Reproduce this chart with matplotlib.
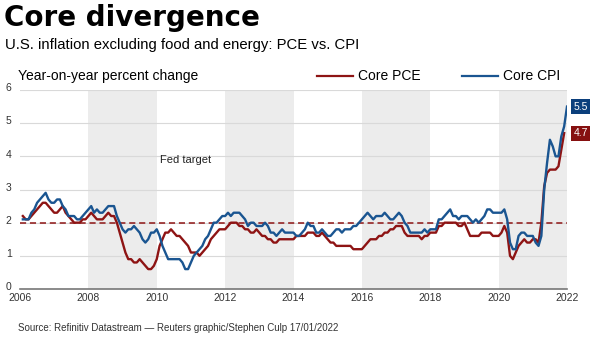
import matplotlib.pyplot as plt
import matplotlib.transforms as mtransforms
import numpy as np

plt.rcParams['font.family'] = ['Liberation Sans', 'DejaVu Sans']

# monthly year-on-year % change, Jan 2006 onwards
core_cpi = [
    2.1, 2.1, 2.1, 2.3, 2.4, 2.6, 2.7, 2.8, 2.9, 2.7, 2.6, 2.6,
    2.7, 2.7, 2.5, 2.4, 2.2, 2.2, 2.2, 2.1, 2.1, 2.2, 2.3, 2.4,
    2.5, 2.3, 2.4, 2.3, 2.3, 2.4, 2.5, 2.5, 2.5, 2.2, 2.0, 1.8,
    1.7, 1.8, 1.8, 1.9, 1.8, 1.7, 1.5, 1.4, 1.5, 1.7, 1.7, 1.8,
    1.6, 1.3, 1.1, 0.9, 0.9, 0.9, 0.9, 0.9, 0.8, 0.6, 0.6, 0.8,
    1.0, 1.1, 1.2, 1.3, 1.5, 1.6, 1.8, 2.0, 2.0, 2.1, 2.2, 2.2,
    2.3, 2.2, 2.3, 2.3, 2.3, 2.2, 2.1, 1.9, 2.0, 2.0, 1.9, 1.9,
    1.9, 2.0, 1.9, 1.7, 1.7, 1.6, 1.7, 1.8, 1.7, 1.7, 1.7, 1.7,
    1.6, 1.6, 1.7, 1.8, 2.0, 1.9, 1.9, 1.7, 1.7, 1.8, 1.7, 1.6,
    1.6, 1.7, 1.8, 1.8, 1.7, 1.8, 1.8, 1.8, 1.9, 1.9, 2.0, 2.1,
    2.2, 2.3, 2.2, 2.1, 2.2, 2.2, 2.2, 2.3, 2.2, 2.1, 2.1, 2.2,
    2.3, 2.2, 2.0, 1.9, 1.7, 1.7, 1.7, 1.7, 1.7, 1.8, 1.7, 1.8,
    1.8, 1.8, 2.1, 2.1, 2.2, 2.3, 2.4, 2.2, 2.2, 2.1, 2.2, 2.2,
    2.2, 2.1, 2.0, 2.1, 2.0, 2.1, 2.2, 2.4, 2.4, 2.3, 2.3, 2.3,
    2.3, 2.4, 2.1, 1.4, 1.2, 1.2, 1.6, 1.7, 1.7, 1.6, 1.6, 1.6,
    1.4, 1.3, 1.6, 3.0, 3.8, 4.5, 4.3, 4.0, 4.0, 4.6, 4.9, 5.5,
]
core_pce = [
    2.2, 2.1, 2.1, 2.2, 2.3, 2.4, 2.5, 2.6, 2.6, 2.5, 2.4, 2.3,
    2.3, 2.4, 2.5, 2.3, 2.2, 2.1, 2.0, 2.0, 2.0, 2.1, 2.1, 2.2,
    2.3, 2.2, 2.1, 2.1, 2.1, 2.2, 2.3, 2.2, 2.2, 2.0, 1.7, 1.4,
    1.1, 0.9, 0.9, 0.8, 0.8, 0.9, 0.8, 0.7, 0.6, 0.6, 0.7, 0.9,
    1.3, 1.5, 1.7, 1.7, 1.8, 1.7, 1.6, 1.6, 1.5, 1.4, 1.3, 1.1,
    1.1, 1.1, 1.0, 1.1, 1.2, 1.3, 1.5, 1.6, 1.7, 1.8, 1.8, 1.8,
    1.9, 2.0, 2.0, 2.0, 1.9, 1.9, 1.8, 1.8, 1.7, 1.7, 1.8, 1.7,
    1.6, 1.6, 1.5, 1.5, 1.4, 1.4, 1.5, 1.5, 1.5, 1.5, 1.5, 1.5,
    1.6, 1.6, 1.6, 1.6, 1.7, 1.7, 1.7, 1.6, 1.6, 1.7, 1.6, 1.5,
    1.4, 1.4, 1.3, 1.3, 1.3, 1.3, 1.3, 1.3, 1.2, 1.2, 1.2, 1.2,
    1.3, 1.4, 1.5, 1.5, 1.5, 1.6, 1.6, 1.7, 1.7, 1.8, 1.8, 1.9,
    1.9, 1.9, 1.7, 1.6, 1.6, 1.6, 1.6, 1.6, 1.5, 1.6, 1.6, 1.7,
    1.7, 1.7, 1.9, 1.9, 2.0, 2.0, 2.0, 2.0, 2.0, 1.9, 1.9, 2.0,
    1.8, 1.6, 1.6, 1.6, 1.6, 1.7, 1.7, 1.7, 1.7, 1.6, 1.6, 1.6,
    1.7, 1.9, 1.7, 1.0, 0.9, 1.1, 1.3, 1.4, 1.5, 1.4, 1.4, 1.5,
    1.5, 1.4, 2.0, 3.1, 3.5, 3.6, 3.6, 3.6, 3.7, 4.2, 4.7,
]
fed_target = 2.0
year_ticks = list(range(2006, 2023, 2))
shaded = [(2008, 2010), (2012, 2014), (2016, 2018), (2020, 2022)]

cpi_x = 2006 + (np.arange(len(core_cpi)) + 1) / 12
pce_x = 2006 + (np.arange(len(core_pce)) + 1) / 12

red = '#8e1414'
blue = '#1a5591'

fig = plt.figure(figsize=(6, 3.38), dpi=100)
ax = fig.add_axes([20/600, 1 - 289/338, 547/600, 199/338])

for a, b in shaded:
    ax.axvspan(a, b, color='#ececec', lw=0, zorder=0)
for v in range(1, 7):
    ax.axhline(v, color='#d9d9d9', lw=0.8, zorder=1)

ax.axhline(fed_target, color=red, lw=1.1, ls=(0, (4, 2.5)), zorder=2)
ax.plot(pce_x, core_pce, color=red, lw=1.7, zorder=3)
ax.plot(cpi_x, core_cpi, color=blue, lw=1.7, zorder=4)

ax.set_xlim(2006, 2022)
ax.set_ylim(0, 6)
ax.set_xticks(year_ticks)
ax.set_yticks(range(0, 7))
ax.tick_params(axis='both', length=0, labelsize=7.5, colors='#333333')
ax.tick_params(axis='y', pad=6)
ax.tick_params(axis='x', pad=3)
shift_up = mtransforms.ScaledTranslation(0, 2 / 72, fig.dpi_scale_trans)
for lab in ax.get_yticklabels():
    lab.set_transform(lab.get_transform() + shift_up)
for s in ['top', 'right', 'left']:
    ax.spines[s].set_visible(False)
ax.spines['bottom'].set_color('#777777')
ax.spines['bottom'].set_linewidth(1.2)

ax.text(2010.85, 3.9, 'Fed target', fontsize=8, color='#222222', ha='center', va='center')

ax.annotate('5.5', xy=(1.0, core_cpi[-1]), xycoords=('axes fraction', 'data'),
            xytext=(4.5, 0), textcoords='offset points', fontsize=7.5, color='white',
            ha='left', va='center', annotation_clip=False,
            bbox=dict(boxstyle='square,pad=0.25', fc='#0b3f7c', ec='none'))
ax.annotate('4.7', xy=(1.0, core_pce[-1]), xycoords=('axes fraction', 'data'),
            xytext=(4.5, 0), textcoords='offset points', fontsize=7.5, color='white',
            ha='left', va='center', annotation_clip=False,
            bbox=dict(boxstyle='square,pad=0.25', fc='#861010', ec='none'))

fig.text(4/600, 1 - 18/338, 'Core divergence', fontsize=20, fontweight='heavy',
         family='DejaVu Sans', va='center', ha='left')
fig.text(5/600, 1 - 45/338, 'U.S. inflation excluding food and energy: PCE vs. CPI',
         fontsize=10.7, va='center', ha='left')
fig.text(18/600, 1 - 76/338, 'Year-on-year percent change', fontsize=10, va='center', ha='left')

fig.lines.append(plt.Line2D([317/600, 353/600], [1 - 76/338] * 2, color=red, lw=1.6, transform=fig.transFigure))
fig.text(358/600, 1 - 76/338, 'Core PCE', fontsize=10, va='center', ha='left')
fig.lines.append(plt.Line2D([462/600, 498/600], [1 - 76/338] * 2, color=blue, lw=1.6, transform=fig.transFigure))
fig.text(503/600, 1 - 76/338, 'Core CPI', fontsize=10, va='center', ha='left')

fig.text(18/600, 1 - 328/338, 'Source: Refinitiv Datastream \u2014 Reuters graphic/Stephen Culp 17/01/2022',
         fontsize=7, color='#333333', va='center', ha='left')

fig.savefig('out.png', dpi=100)
